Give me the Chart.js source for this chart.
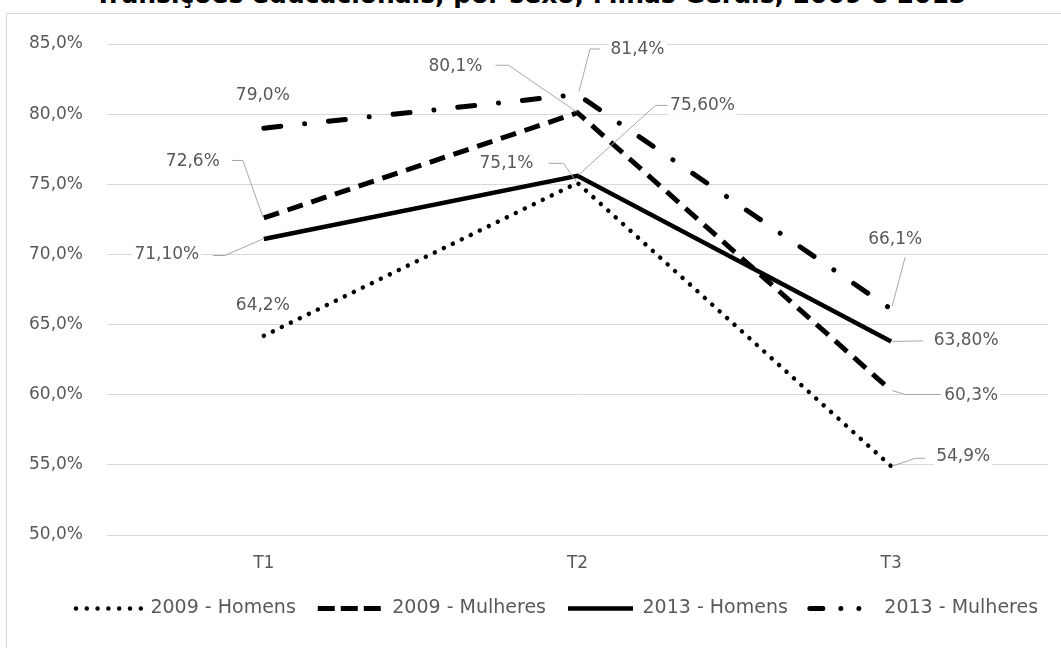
<!DOCTYPE html>
<html>
<head>
<meta charset="utf-8">
<script src="https://cdn.jsdelivr.net/npm/chart.js@4/dist/chart.umd.min.js"></script>
<style>
  html, body { margin: 0; padding: 0; background: #fff; width: 1061px; height: 648px; overflow: hidden; }
  #title { position: absolute; left: 0; top: -18px; width: 1061px; text-align: center;
           font: bold 25px "DejaVu Sans", sans-serif; line-height: 25px; color: #000; white-space: nowrap; }
  #frame { position: absolute; left: 6px; top: 13px; width: 1100px; height: 700px;
           border-left: 1px solid #d9d9d9; border-top: 1px solid #d9d9d9; background: #fff; }
  #c { position: absolute; left: 0; top: 0; }
</style>
</head>
<body>
<div id="title">Transições educacionais, por sexo, Minas Gerais, 2009 e 2013</div>
<div id="frame"></div>
<canvas id="c" width="1061" height="648"></canvas>
<script>
// Categories and series values
const categories = ['T1', 'T2', 'T3'];
const homens2009 = [64.2, 75.1, 54.9];
const mulheres2009 = [72.6, 80.1, 60.3];
const homens2013 = [71.1, 75.6, 63.8];
const mulheres2013 = [79.0, 81.4, 66.1];
const seriesNames = ['2009 - Homens', '2009 - Mulheres', '2013 - Homens', '2013 - Mulheres'];
const labelDecimals = [1, 1, 2, 1];
const yTicks = [50, 55, 60, 65, 70, 75, 80, 85];

const fmt = (v, d) => v.toFixed(d).replace('.', ',') + '%';

// Data label placement: offset of the label centre from its point, plus leader path (relative px)
const labelPlacement = [
  [ { dx: -1, dy: -30 },
    { dx: -71, dy: -19, leader: [[-29, -19.5], [-14, -19.5], [-1, -1]] },
    { dx: 72, dy: -10, leader: [[1, 0], [24, -8], [34, -8]] } ],
  [ { dx: -71, dy: -56, leader: [[-32, -57.5], [-21, -57.5], [-1, -1]] },
    { dx: -122, dy: -46, leader: [[-82, -47.5], [-69, -47.5], [-1, -1]] },
    { dx: 80, dy: 5, leader: [[1, 0], [14, 4], [49, 4]] } ],
  [ { dx: -97, dy: 16, leader: [[-51, 16.5], [-39, 16.5], [-1, 0]] },
    { dx: 125, dy: -70, leader: [[1, -1], [78, -70.5], [90, -70.5]] },
    { dx: 75, dy: -1, leader: [[1, 0], [32, -0.5]] } ],
  [ { dx: -1, dy: -33 },
    { dx: 60, dy: -45, leader: [[22.5, -45.5], [12.5, -45.5], [1.5, -3]] },
    { dx: 4, dy: -70, leader: [[14, -52], [1, -3]] } ]
];

const lineStyles = [
  { borderDash: [0.01, 10], borderCapStyle: 'round', borderWidth: 4.5 },
  { borderDash: [16, 9], borderCapStyle: 'butt', borderWidth: 5 },
  { borderDash: [], borderCapStyle: 'butt', borderWidth: 4.5 },
  { borderDash: [17, 24, 0.01, 24], borderCapStyle: 'round', borderWidth: 5 }
];
// Legend samples are short, so their dash patterns are tightened
const legendDashes = [[0.01, 10.8], [17, 6], [], [13, 18, 0.01, 18, 0.01, 30]];

const seriesValues = [homens2009, mulheres2009, homens2013, mulheres2013];

// Value labels with leader lines
const valueLabels = {
  id: 'valueLabels',
  afterDatasetsDraw(chart) {
    const ctx = chart.ctx;
    ctx.save();
    chart.data.datasets.forEach((ds, i) => {
      const meta = chart.getDatasetMeta(i);
      meta.data.forEach((pt, j) => {
        const p = labelPlacement[i][j];
        const x = pt.x, y = pt.y;
        if (p.leader) {
          ctx.beginPath();
          ctx.setLineDash([]);
          ctx.strokeStyle = '#a6a6a6';
          ctx.lineWidth = 1;
          p.leader.forEach((q, k) => {
            if (k === 0) ctx.moveTo(x + q[0], y + q[1]);
            else ctx.lineTo(x + q[0], y + q[1]);
          });
          ctx.stroke();
        }
        const txt = fmt(ds.data[j], labelDecimals[i]);
        ctx.font = '17px "DejaVu Sans", sans-serif';
        const w = ctx.measureText(txt).width;
        const cx = x + p.dx, cy = y + p.dy;
        ctx.fillStyle = '#fff';
        ctx.fillRect(cx - w / 2 - 2, cy - 9, w + 4, 18);
        ctx.fillStyle = '#595959';
        ctx.textAlign = 'center';
        ctx.textBaseline = 'middle';
        ctx.fillText(txt, cx, cy);
      });
    });
    ctx.restore();
  }
};

// The legend row sits a little right of the plot centre
const legendShift = {
  id: 'legendShift',
  afterLayout(chart) {
    const lg = chart.legend;
    if (lg) { lg.left += 33; lg.right += 33; }
  }
};

new Chart(document.getElementById('c'), {
  type: 'line',
  data: {
    labels: categories,
    datasets: seriesValues.map((vals, i) => Object.assign({
      label: seriesNames[i],
      data: vals,
      borderColor: '#000',
      backgroundColor: '#000',
      pointRadius: 0,
      pointHoverRadius: 0,
      tension: 0,
      fill: false
    }, lineStyles[i]))
  },
  options: {
    responsive: false,
    animation: false,
    layout: { padding: { left: 0, right: 13, top: 44, bottom: 20 } },
    plugins: {
      legend: {
        position: 'bottom',
        labels: {
          usePointStyle: true,
          pointStyle: 'line',
          pointStyleWidth: 65,
          color: '#595959',
          font: { family: 'DejaVu Sans', size: 19 },
          padding: 22,
          generateLabels(chart) {
            return chart.data.datasets.map((ds, i) => ({
              text: ds.label,
              fillStyle: '#000',
              strokeStyle: '#000',
              lineWidth: ds.borderWidth,
              lineDash: legendDashes[i],
              lineCap: ds.borderCapStyle,
              pointStyle: 'line',
              fontColor: '#595959',
              hidden: false,
              datasetIndex: i
            }));
          }
        }
      },
      tooltip: { enabled: false },
      title: { display: false }
    },
    scales: {
      x: {
        offset: true,
        grid: { display: false, drawTicks: false },
        border: { display: false },
        ticks: { color: '#595959', font: { family: 'DejaVu Sans', size: 17 }, padding: 18 },
        afterFit(s) { s.height = 42; }
      },
      y: {
        min: 50,
        max: 85,
        afterBuildTicks(s) { s.ticks = yTicks.map(v => ({ value: v })); },
        ticks: {
          color: '#595959',
          font: { family: 'DejaVu Sans', size: 17 },
          padding: 24,
          callback: v => fmt(v, 1)
        },
        grid: { color: '#d9d9d9', lineWidth: 1, drawTicks: false },
        border: { display: false },
        afterFit(s) { s.width = 107; }
      }
    }
  },
  plugins: [valueLabels, legendShift]
});
</script>
</body>
</html>
